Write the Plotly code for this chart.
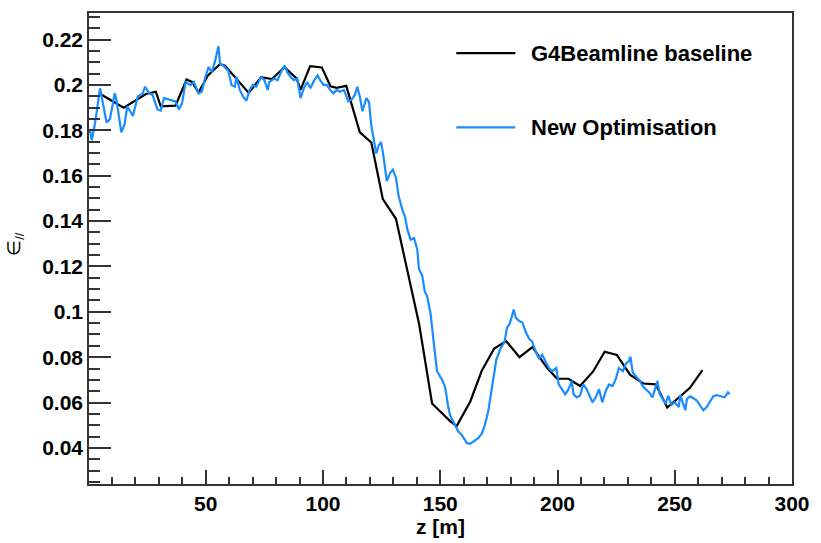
import plotly.graph_objects as go

# ---- data ----
baseline_z = [5.0, 15.0, 24.5, 28.7, 30.8, 37.1, 41.8, 44.1, 46.9, 50.9, 56.1, 58.2, 68.3, 73.6,
              78.2, 83.6, 88.8, 90.4, 94.5, 99.5, 103.2, 105.8, 109.9, 113.6, 115.7, 120.6, 125.5,
              131.1, 136.0, 141.0, 146.5, 154.2, 157.0, 162.8, 167.7, 173.0, 178.1, 183.8, 189.3,
              195.6, 199.8, 204.7, 209.6, 215.2, 220.1, 225.3, 231.0, 236.6, 241.9, 246.8, 251.5,
              256.5, 261.8]
baseline_eps = [0.196, 0.190, 0.196, 0.197, 0.1906, 0.1909, 0.2024, 0.2013, 0.1966, 0.2042, 0.2092,
                0.2085, 0.1965, 0.2034, 0.2026, 0.2078, 0.2028, 0.1978, 0.2083, 0.2077, 0.1994,
                0.1987, 0.1996, 0.1863, 0.1791, 0.1746, 0.1497, 0.1410, 0.1180, 0.0945, 0.0596,
                0.0518, 0.0496, 0.0605, 0.0740, 0.0838, 0.0871, 0.0800, 0.0844, 0.0752, 0.0705,
                0.0705, 0.0673, 0.0737, 0.0824, 0.0810, 0.0722, 0.0684, 0.0680, 0.0578, 0.0620,
                0.0665, 0.0743]

optim_z = [0.0, 0.67, 1.4, 2.8, 4.9, 5.6, 7.7, 9.1, 11.2, 11.9, 14.0, 15.4, 16.5, 18.9, 21.0, 23.1,
           24.1, 25.9, 27.3, 29.4, 30.8, 32.2, 35.0, 37.1, 38.5, 39.9, 41.4, 43.5, 44.9, 46.9, 48.3,
           49.8, 51.2, 52.6, 54.0, 55.4, 56.1, 57.5, 59.6, 61.0, 62.4, 63.1, 64.5, 65.9, 67.3, 68.7,
           70.1, 71.5, 73.6, 75.0, 76.4, 77.1, 79.2, 80.6, 82.7, 83.7, 84.8, 86.2, 87.6, 89.0, 90.4,
           91.8, 93.2, 94.6, 96.3, 97.7, 98.8, 100.2, 101.6, 103.0, 104.4, 105.8, 107.2, 108.9,
           110.8, 112.2, 113.6, 114.6, 115.7, 116.8, 118.5, 119.6, 120.6, 122.7, 123.8, 124.8,
           125.8, 127.2, 128.6, 129.8, 131.1, 132.2, 133.9, 135.0, 136.0, 137.4, 138.8, 140.2,
           140.9, 142.3, 143.4, 144.4, 145.8, 147.2, 148.6, 150.7, 152.1, 153.3, 154.2, 155.6,
           157.7, 159.1, 161.3, 162.7, 164.1, 166.2, 167.8, 169.0, 170.4, 171.5, 172.9, 173.9,
           175.7, 177.4, 178.5, 179.5, 180.4, 181.3, 182.2, 183.6, 185.0, 186.5, 187.9, 189.3,
           190.7, 192.1, 193.5, 194.9, 196.3, 197.7, 198.4, 199.5, 200.5, 201.9, 203.3, 204.7,
           206.1, 206.8, 208.2, 209.6, 211.0, 212.4, 213.8, 214.9, 216.3, 217.7, 219.1, 220.6,
           222.0, 223.4, 224.8, 226.2, 227.9, 229.3, 230.4, 231.1, 232.1, 233.5, 235.2, 236.3,
           237.7, 239.1, 240.5, 241.6, 242.6, 243.6, 245.0, 246.1, 247.2, 248.6, 250.0, 251.7,
           252.4, 253.8, 254.5, 255.2, 256.6, 258.0, 259.4, 260.8, 262.2, 263.6, 265.0, 266.4,
           267.8, 269.9, 271.3, 272.7, 273.4]
optim_eps = [0.179, 0.1798, 0.1756, 0.1833, 0.1985, 0.1949, 0.1834, 0.1849, 0.1963, 0.1934, 0.1791,
             0.1827, 0.1906, 0.1863, 0.1949, 0.1963, 0.1992, 0.1963, 0.1956, 0.1892, 0.1887,
             0.1942, 0.1935, 0.1927, 0.1892, 0.1920, 0.2013, 0.1999, 0.2013, 0.1963, 0.1970,
             0.2035, 0.2078, 0.2056, 0.2107, 0.2171, 0.2092, 0.2085, 0.2063, 0.1999, 0.1992,
             0.2035, 0.1978, 0.1949, 0.1930, 0.1978, 0.2000, 0.1992, 0.2035, 0.2021, 0.1978,
             0.2013, 0.2028, 0.2021, 0.2071, 0.2085, 0.2056, 0.2035, 0.2021, 0.2028, 0.1942,
             0.1985, 0.2013, 0.1985, 0.2021, 0.2042, 0.2021, 0.2000, 0.2000, 0.1978, 0.1963,
             0.1978, 0.1970, 0.1978, 0.1927, 0.1935, 0.1956, 0.1992, 0.1949, 0.1884, 0.1942,
             0.1925, 0.1820, 0.1698, 0.1734, 0.1748, 0.1684, 0.1576, 0.1612, 0.1627, 0.1591,
             0.1512, 0.1447, 0.1419, 0.1361, 0.1318, 0.1325, 0.1275, 0.1189, 0.1160, 0.1089,
             0.1068, 0.0996, 0.0874, 0.0738, 0.0702, 0.0667, 0.0587, 0.0544, 0.0515, 0.0472,
             0.0458, 0.0422, 0.0418, 0.0429, 0.0443, 0.0465, 0.0501, 0.0558, 0.0637, 0.0730,
             0.0788, 0.0838, 0.0867, 0.0931, 0.0945, 0.0974, 0.1010, 0.0974, 0.0960, 0.0953,
             0.0910, 0.0881, 0.0867, 0.0824, 0.0795, 0.0810, 0.0781, 0.0752, 0.0738, 0.0745,
             0.0752, 0.0680, 0.0659, 0.0637, 0.0659, 0.0695, 0.0637, 0.0623, 0.0630, 0.0680,
             0.0659, 0.0623, 0.0601, 0.0623, 0.0659, 0.0601, 0.0652, 0.0680, 0.0673, 0.0702,
             0.0752, 0.0738, 0.0774, 0.0781, 0.0802, 0.0731, 0.0716, 0.0695, 0.0673, 0.0659,
             0.0645, 0.0623, 0.0666, 0.0695, 0.0637, 0.0616, 0.0594, 0.0630, 0.0590, 0.0601,
             0.0580, 0.0633, 0.0587, 0.0566, 0.0616, 0.0627, 0.0619, 0.0609, 0.0587, 0.0566,
             0.0580, 0.0601, 0.0627, 0.0633, 0.0627, 0.0623, 0.0645, 0.0637]

series_names = ["G4Beamline baseline", "New Optimisation"]
series_colors = ["#000000", "#1a8cff"]

x_tickvals = [50, 100, 150, 200, 250, 300]
x_ticktext = ["50", "100", "150", "200", "250", "300"]
y_tickvals = [0.04, 0.06, 0.08, 0.10, 0.12, 0.14, 0.16, 0.18, 0.20, 0.22]
y_ticktext = ["0.04", "0.06", "0.08", "0.1", "0.12", "0.14", "0.16", "0.18", "0.2", "0.22"]

FONT = "Liberation Sans"

fig = go.Figure()
for zs, es, name, col in [(baseline_z, baseline_eps, series_names[0], series_colors[0]),
                          (optim_z, optim_eps, series_names[1], series_colors[1])]:
    fig.add_trace(go.Scatter(x=zs, y=es, mode="lines", name=name,
                             line=dict(color=col, width=2.2), showlegend=False))

# legend drawn manually to match the original layout
leg_y = [0.915, 0.757]
shapes = []
annotations = []
for name, col, yy in zip(series_names, series_colors, leg_y):
    shapes.append(dict(type="line", xref="paper", yref="paper", x0=0.5225, x1=0.6065,
                       y0=yy, y1=yy, line=dict(color=col, width=2.2)))
    annotations.append(dict(text=name, xref="paper", yref="paper", x=0.626, y=yy,
                            xanchor="left", yanchor="middle", showarrow=False,
                            font=dict(family=FONT, size=22, color="#000", weight="bold")))
annotations.append(dict(text="∈<sub>//</sub>", xref="paper", yref="paper", x=-0.104, y=0.51,
                        xanchor="center", yanchor="middle", showarrow=False, textangle=-90,
                        font=dict(family=FONT, size=18, color="#000")))

fig.update_layout(
    width=821, height=543,
    margin=dict(l=89, r=20, t=11, b=50),
    paper_bgcolor="white", plot_bgcolor="white",
    shapes=shapes, annotations=annotations,
    xaxis=dict(range=[0.2, 300], tickmode="array", tickvals=x_tickvals, ticktext=x_ticktext,
               ticks="inside", ticklen=14, tickwidth=1.5, tickcolor="#333",
               minor=dict(ticks="inside", ticklen=7, tickwidth=1.5, tickcolor="#333",
                          dtick=10, tick0=0, showgrid=False),
               showgrid=False, zeroline=False, showline=True, mirror=True,
               linecolor="#333", linewidth=1.5,
               tickfont=dict(family=FONT, size=21, color="#000", weight="bold"),
               title=dict(text="z [m]", standoff=2,
                          font=dict(family=FONT, size=21, color="#000", weight="bold"))),
    yaxis=dict(range=[0.0241, 0.2317], tickmode="array", tickvals=y_tickvals, ticktext=y_ticktext,
               ticks="inside", ticklen=22, tickwidth=1.5, tickcolor="#333",
               minor=dict(ticks="inside", ticklen=11, tickwidth=1.5, tickcolor="#333",
                          dtick=0.005, tick0=0, showgrid=False),
               showgrid=False, zeroline=False, showline=True, mirror=True,
               linecolor="#333", linewidth=1.5,
               tickfont=dict(family=FONT, size=21, color="#000", weight="bold")),
)

fig.write_html("out.html")
